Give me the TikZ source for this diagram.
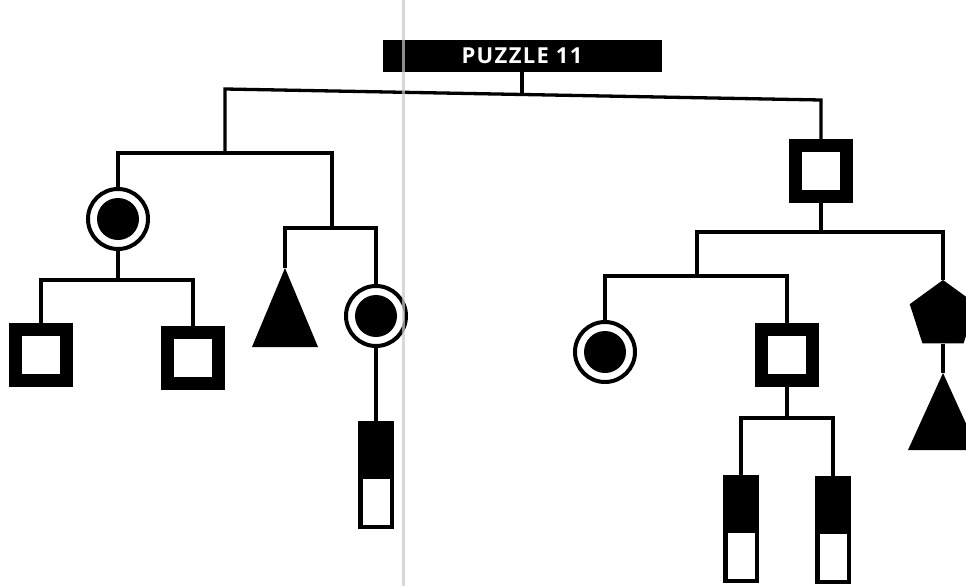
\documentclass[tikz,border=0pt]{standalone}
\usepackage{fontspec}
\newfontfamily\titlefont[LetterSpace=6]{Open Sans}
\usetikzlibrary{shapes.geometric}
\definecolor{foldgray}{RGB}{200,200,200}
\tikzset{
  conn/.style={line width=3.3pt, line join=miter},
  sqbox/.style={rectangle, draw, line width=13pt, minimum size=51pt, inner sep=0pt, fill=white},
  ringdot/.style={circle, draw, line width=4pt, minimum size=60pt, inner sep=0pt, fill=white,
    path picture={\fill[black] (path picture bounding box.center) circle[radius=21pt];}},
  halfbar/.style={rectangle, draw, line width=4.5pt, minimum width=31.5pt, minimum height=104pt, inner sep=0pt, fill=white,
    path picture={\fill[black] (path picture bounding box.north west) rectangle ([yshift=-4pt]path picture bounding box.east);}},
  pentnode/.style={regular polygon, regular polygon sides=5, minimum size=70pt, inner sep=0pt, fill=black},
  titlebar/.style={rectangle, fill=black, minimum width=279pt, minimum height=32pt, inner sep=0pt,
    text=white, font=\titlefont\bfseries\fontsize{22}{24}\selectfont}
}
\begin{document}
\begin{tikzpicture}[x=1pt,y=-1pt]
\useasboundingbox (0,0) rectangle (966,586);
\clip (0,0) rectangle (966,586);
\fill[white] (0,0) rectangle (966,586);

% title
\node[titlebar] (title) at (522,56) {PUZZLE 11};

% nodes
\node[sqbox] (sqR) at (821,171) {};
\node[ringdot] (cA) at (118,219) {};
\node[sqbox] (sq1) at (41,355) {};
\node[sqbox] (sq2) at (193,358) {};
\coordinate (t1) at (285,268);
\fill (t1) -- ++(-33,79) -- ++(66,0) -- cycle;
\node[ringdot] (cB) at (376,316) {};
\node[halfbar] (r1) at (376,475) {};
\node[ringdot] (cC) at (605,352) {};
\node[sqbox] (sq3) at (787,355) {};
\node[halfbar] (r2) at (741,529) {};
\node[halfbar] (r3) at (833,530) {};
\node[pentnode] (pent) at (943,315) {};
\coordinate (t2) at (943,373);
\fill (t2) -- ++(-35,77) -- ++(70,0) -- cycle;

% junction coordinates
\coordinate (j0) at (522,94.5);
\coordinate (b1) at (225,153);
\coordinate (b1r) at (332,153);
\coordinate (b2c) at (118,280);
\coordinate (b3c) at (332,228);
\coordinate (b4c) at (821,232);
\coordinate (b5c) at (697,276);
\coordinate (b6c) at (787,418);

% connectors
\draw[conn] (title.south) -- (j0);
\draw[conn] (b1) -- (225,89) -- (821,100) -- (sqR.north);
\draw[conn] (cA.north) |- (b1r) -- (b3c);
\draw[conn] (cA.south) -- (b2c);
\draw[conn] (sq1.north) |- (b2c) -| (sq2.north);
\draw[conn] (t1) |- (b3c) -| (cB.north);
\draw[conn] (cB.south) -- (r1.north);
\draw[conn] (sqR.south) -- (b4c);
\draw[conn] (b5c) |- (b4c) -| (pent.north);
\draw[conn] (cC.north) |- (b5c) -| (sq3.north);
\draw[conn] (sq3.south) -- (b6c);
\draw[conn] (r2.north) |- (b6c) -| (r3.north);
\draw[conn] (pent.south) -- (t2);

% page fold line
\draw[line width=3pt, foldgray, opacity=0.7] (403,0) -- (403,586);
\end{tikzpicture}
\end{document}
